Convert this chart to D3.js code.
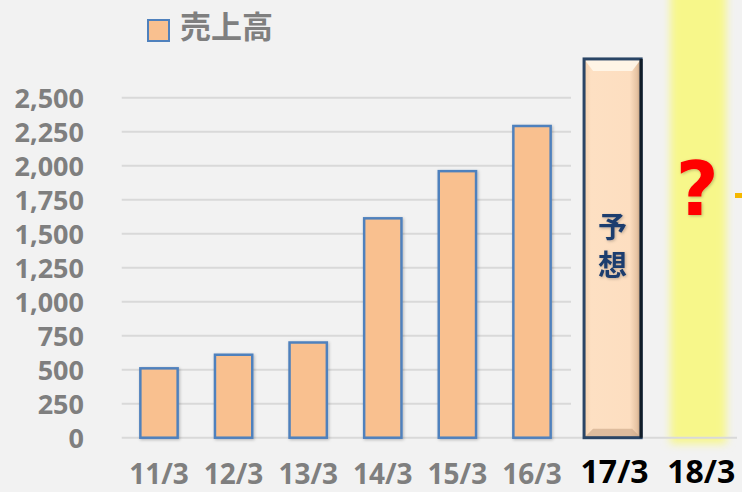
<!DOCTYPE html>
<html>
<head>
<meta charset="utf-8">
<script src="https://cdn.jsdelivr.net/npm/d3@7"></script>
<style>
  body { margin: 0; background: #f2f2f2; }
  svg { display: block; }
  .ytick { font-family: "Open Sans", sans-serif; font-weight: bold; font-size: 27px; fill: #7f7f7f; }
  .xtick { font-family: "Open Sans", sans-serif; font-weight: bold; font-size: 28px; fill: #7f7f7f; }
</style>
</head>
<body>
<div id="chart"></div>
<script>
// data
let periods = ["11/3", "12/3", "13/3", "14/3", "15/3", "16/3", "17/3", "18/3"];
let sales = [510, 610, 700, 1613, 1960, 2292];
let forecast = 2785;           // 17/3 forecast bar (予想)
let yTicks = [0, 250, 500, 750, 1000, 1250, 1500, 1750, 2000, 2250, 2500];
let seriesName = "売上高";

let W = 742, H = 492;

let svg = d3.select("#chart")
    .append("svg")
    .attr("width", W)
    .attr("height", H);

svg.append("rect").attr("width", W).attr("height", H).attr("fill", "#f2f2f2");

let defs = svg.append("defs");

// soft glow for the yellow highlight band
let glow = defs.append("filter").attr("id", "glow")
    .attr("x", "-50%").attr("y", "-10%").attr("width", "200%").attr("height", "120%");
glow.append("feGaussianBlur").attr("stdDeviation", 4);

let shadow = defs.append("filter").attr("id", "shadow")
    .attr("x", "-20%").attr("y", "-20%").attr("width", "140%").attr("height", "140%");
shadow.append("feDropShadow").attr("dx", 1).attr("dy", 1).attr("stdDeviation", 1.5)
    .attr("flood-color", "#000").attr("flood-opacity", 0.25);

let bevelGrad = defs.append("linearGradient").attr("id", "bevelH")
    .attr("x1", "0").attr("x2", "1").attr("y1", "0").attr("y2", "0");
bevelGrad.append("stop").attr("offset", "0").attr("stop-color", "#f4cfac");
bevelGrad.append("stop").attr("offset", "0.12").attr("stop-color", "#fde0c3");
bevelGrad.append("stop").attr("offset", "0.8").attr("stop-color", "#fddec0");
bevelGrad.append("stop").attr("offset", "0.93").attr("stop-color", "#e6c3a2");
bevelGrad.append("stop").attr("offset", "1").attr("stop-color", "#b89676");

let xScale = d3.scaleBand()
    .domain(periods)
    .range([121.7, 718.5])
    .paddingInner(0.5)
    .paddingOuter(0.25);

let yScale = d3.scaleLinear()
    .domain([0, 2500])
    .range([437.7, 97.7]);

// yellow "next year" band behind everything
let bandX = xScale("18/3") + xScale.bandwidth() / 2 + 17;
svg.append("rect")
    .attr("x", bandX - 28)
    .attr("y", -10)
    .attr("width", 56)
    .attr("height", yScale(0) + 16)
    .attr("fill", "#f7f78a")
    .attr("filter", "url(#glow)");

// gridlines
svg.append("g")
    .selectAll("line")
    .data(yTicks.filter(d => d > 0))
    .enter()
    .append("line")
    .attr("x1", 121.7)
    .attr("x2", 571)
    .attr("y1", d => yScale(d))
    .attr("y2", d => yScale(d))
    .attr("stroke", "#d9d9d9")
    .attr("stroke-width", 2);

// baseline
svg.append("line")
    .attr("x1", 121.7).attr("x2", 737)
    .attr("y1", yScale(0)).attr("y2", yScale(0))
    .attr("stroke", "#d9d9d9").attr("stroke-width", 2);

// y axis labels
let yAxis = d3.axisLeft(yScale).tickValues(yTicks).tickFormat(d3.format(",")).tickSize(0).tickPadding(0);
let yg = svg.append("g")
    .attr("transform", "translate(84,0)")
    .call(yAxis);
yg.select(".domain").remove();
yg.selectAll("text").attr("class", "ytick").attr("dy", "0.36em");

// bars
svg.append("g")
    .selectAll("rect")
    .data(sales)
    .enter()
    .append("rect")
    .attr("x", (d, i) => xScale(periods[i]))
    .attr("y", d => yScale(d))
    .attr("width", xScale.bandwidth())
    .attr("height", d => yScale(0) - yScale(d))
    .attr("fill", "#f9c08f")
    .attr("stroke", "#4f81bd")
    .attr("stroke-width", 2.5)
    .attr("filter", "url(#shadow)");

// forecast bar with bevel
let fw = xScale.bandwidth() * 1.53;
let fx = xScale("17/3") + xScale.bandwidth() / 2 + 6 - fw / 2;
let fy = yScale(forecast);
let fh = yScale(0) - fy;
let fb = svg.append("g");
fb.append("rect")
    .attr("x", fx).attr("y", fy).attr("width", fw).attr("height", fh)
    .attr("fill", "url(#bevelH)");
let bv = 9;
fb.append("polygon")
    .attr("points", [[fx, fy], [fx + fw, fy], [fx + fw - bv, fy + bv + 3], [fx + bv, fy + bv + 3]].join(" "))
    .attr("fill", "#fff7ea").attr("opacity", 0.9);
fb.append("polygon")
    .attr("points", [[fx, fy + fh], [fx + fw, fy + fh], [fx + fw - bv, fy + fh - bv], [fx + bv, fy + fh - bv]].join(" "))
    .attr("fill", "#c9a585").attr("opacity", 0.6);
fb.append("rect")
    .attr("x", fx).attr("y", fy).attr("width", fw).attr("height", fh)
    .attr("fill", "none")
    .attr("stroke", "#2a4566")
    .attr("stroke-width", 3);
fb.append("line")
    .attr("x1", fx + fw).attr("x2", fx + fw).attr("y1", fy).attr("y2", fy + fh)
    .attr("stroke", "#111c28").attr("stroke-width", 3);

// 予想 text, vertical
let fcx = fx + fw / 2;
["予", "想"].forEach((c, i) => {
    fb.append("text")
        .attr("x", fcx)
        .attr("y", 238 + i * 38)
        .attr("text-anchor", "middle")
        .attr("font-family", "'Noto Sans CJK JP', sans-serif")
        .attr("font-weight", "bold")
        .attr("font-size", 29)
        .attr("fill", "#1f3e6e")
        .attr("filter", "url(#shadow)")
        .text(c);
});

// question mark
svg.append("text")
    .attr("x", bandX - 1)
    .attr("y", 215)
    .attr("text-anchor", "middle")
    .attr("font-family", "'DejaVu Sans', sans-serif")
    .attr("font-weight", "bold")
    .attr("font-size", 74)
    .attr("fill", "#ff0000")
    .attr("filter", "url(#shadow)")
    .text("?");

svg.append("rect")
    .attr("x", 735).attr("y", 193).attr("width", 7).attr("height", 5)
    .attr("fill", "#f5b800");

// x axis labels
svg.append("g")
    .selectAll("text")
    .data(periods.slice(0, 6))
    .enter()
    .append("text")
    .attr("class", "xtick")
    .attr("x", d => xScale(d) + xScale.bandwidth() / 2)
    .attr("y", 484)
    .attr("text-anchor", "middle")
    .text(d => d);

svg.append("g")
    .selectAll("text")
    .data(periods.slice(6))
    .enter()
    .append("text")
    .attr("x", (d, i) => xScale(d) + xScale.bandwidth() / 2 + (i === 0 ? 8 : 20))
    .attr("y", 483)
    .attr("text-anchor", "middle")
    .attr("font-family", "'Open Sans', sans-serif")
    .attr("font-weight", "bold")
    .attr("font-size", 32)
    .attr("fill", "#000")
    .text(d => d);

// legend
svg.append("rect")
    .attr("x", 148).attr("y", 20).attr("width", 21).attr("height", 21)
    .attr("fill", "#f9c08f").attr("stroke", "#4f81bd").attr("stroke-width", 2);
svg.append("text")
    .attr("x", 180).attr("y", 38)
    .attr("font-family", "'Noto Sans CJK JP', sans-serif")
    .attr("font-weight", "bold")
    .attr("font-size", 31)
    .attr("fill", "#7f7f7f")
    .text(seriesName);
</script>
</body>
</html>
